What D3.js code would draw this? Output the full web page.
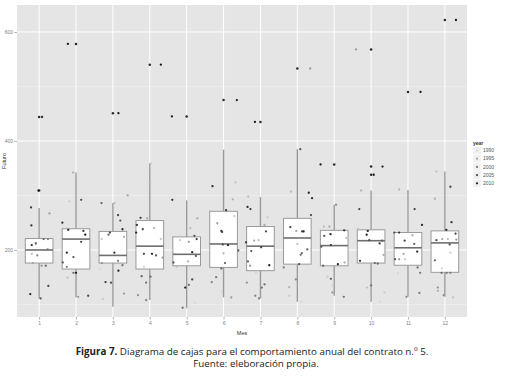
<!DOCTYPE html>
<html>
<head>
<meta charset="utf-8">
<script src="https://cdn.jsdelivr.net/npm/d3@7"></script>
<style>
  body { margin: 0; background: #fff; }
  svg { display: block; }
  .tick text { font-family: "Liberation Sans", Arial, sans-serif; }
</style>
</head>
<body>
<svg id="chart" width="506" height="380"></svg>
<script>
// months on the x axis
const months = [1, 2, 3, 4, 5, 6, 7, 8, 9, 10, 11, 12];

// box statistics
const whiskerLow  = [111, 113,  96, 108,  93, 113, 111, 105, 116, 105, 114, 114];
const q1          = [176, 165, 176, 165, 171, 168, 162, 174, 171, 176, 172, 159];
const medians     = [200, 220, 190, 207, 192, 211, 207, 222, 208, 217, 204, 213];
const q3          = [221, 239, 234, 254, 224, 271, 243, 258, 236, 237, 232, 235];
const whiskerHigh = [277, 342, 286, 359, 291, 384, 297, 385, 283, 309, 310, 344];

// outliers: [month, value]
const outliers = [
  [1, 444], [1, 309], [2, 578], [3, 451], [4, 540], [5, 445], [6, 475],
  [7, 435], [8, 533], [9, 357], [10, 568], [10, 353], [10, 338], [11, 490], [12, 622]
];

// jittered observations per month: [offset from month, value, year]
const jitterPts = [
  [[-0.22,278,2006],[0.28,267,1996],[-0.21,245,2007],[-0.20,209,2008],[-0.09,212,2004],[0.23,201,2000],
   [-0.05,190,1998],[-0.20,193,1993],[0.24,220,1999],[0.12,220,2002],[-0.17,176,1995],[0.18,171,2001],
   [0.07,171,1997],[0.25,134,2005],[-0.24,119,2009],[0.04,111,2003],[-0.02,309,2010],[0.08,444,2008]],
  [[-0.08,342,1994],[-0.18,289,1991],[0.14,292,2004],[-0.37,250,2007],[-0.21,237,2009],[0.20,235,2006],
   [0.25,228,2010],[0.14,215,2005],[-0.25,195,2008],[-0.07,187,2003],[-0.36,177,2002],[-0.25,169,1999],
   [-0.07,158,2001],[-0.23,149,1992],[0.00,158,2009],[0.33,116,2004],[0.06,114,1996],[-0.22,578,2010]],
  [[0.04,286,1993],[0.40,300,1995],[-0.31,286,2002],[0.14,264,2006],[0.26,238,2008],[0.20,254,2003],
   [-0.12,228,2001],[0.30,224,1994],[-0.30,220,1992],[0.04,195,2007],[-0.08,232,2005],[0.14,180,1999],
   [-0.30,176,1997],[-0.35,165,1990],[0.26,172,2000],[0.15,162,2009],[-0.05,140,2004],[-0.20,141,2006],
   [0.30,120,1996],[-0.27,110,1991],[0.15,451,2010]],
  [[0.04,359,1991],[0.00,322,1993],[-0.25,259,2006],[-0.07,258,1995],[-0.35,246,2007],[-0.19,238,2004],
   [0.12,240,1994],[-0.37,232,2008],[0.30,220,1992],[-0.16,193,2005],[0.06,193,2009],[0.17,190,2003],
   [0.35,186,1996],[-0.16,169,1990],[-0.22,152,2002],[0.02,151,2001],[-0.10,140,2000],[-0.32,117,1997],
   [-0.10,108,1999],[0.30,540,2010]],
  [[-0.39,292,2007],[0.29,258,1995],[0.10,240,1993],[0.21,226,2004],[0.27,220,2006],[-0.18,218,1991],
   [0.06,215,1996],[0.15,196,2008],[0.25,189,2002],[-0.36,177,2003],[0.04,179,1994],[-0.27,169,1992],
   [0.15,146,2005],[0.06,136,2001],[-0.04,131,2009],[0.23,103,1990],[-0.11,94,2000],[-0.40,445,2010]],
  [[-0.30,317,2008],[0.32,324,1992],[0.25,293,1994],[0.07,273,2006],[0.29,262,1991],[-0.17,249,1995],
   [-0.06,235,2007],[-0.04,233,2005],[0.12,209,2009],[-0.02,210,2004],[0.40,199,2003],[0.00,194,1993],
   [0.04,176,2002],[-0.06,166,2001],[-0.20,150,2000],[-0.32,141,1999],[-0.05,124,1990],[0.21,113,1996],
   [0.36,475,2010]],
  [[-0.33,298,1993],[-0.35,279,2008],[-0.27,275,2006],[0.19,260,1991],[0.11,246,1995],[0.15,234,2004],
   [-0.39,214,2007],[-0.17,217,1994],[-0.05,218,1992],[0.02,205,2005],[-0.25,198,2003],[-0.34,179,2002],
   [-0.28,171,1996],[0.24,172,2009],[-0.12,158,1990],[-0.37,140,1997],[0.11,137,2001],[0.04,131,2000],
   [-0.14,116,1998],[-0.04,111,1999],[-0.15,435,2010]],
  [[0.08,385,2003],[-0.17,307,1993],[0.31,305,2008],[0.40,295,2007],[0.37,264,2005],[-0.19,242,2006],
   [-0.03,235,1995],[0.13,234,2004],[0.17,234,2009],[0.00,211,1992],[0.27,201,2002],[0.12,194,2001],
   [0.09,191,2000],[-0.37,168,1999],[0.05,174,2003],[-0.04,146,1998],[-0.22,132,1994],[-0.22,116,1991],
   [0.11,105,1990],[0.35,533,1996]],
  [[0.05,283,1997],[-0.28,243,1993],[-0.13,243,1995],[0.27,236,2007],[-0.10,229,2009],[-0.27,226,2004],
   [0.33,222,1992],[-0.09,209,2006],[-0.35,206,2003],[0.10,174,2008],[-0.30,171,2001],[0.28,177,1994],
   [-0.18,151,1991],[-0.09,147,2002],[-0.05,135,1990],[-0.05,122,1996],[0.26,114,2000],[-0.37,357,2010]],
  [[-0.27,309,1994],[-0.32,275,2005],[-0.09,235,2008],[-0.12,228,2009],[-0.05,218,2004],[-0.36,238,1993],
   [0.23,212,2006],[0.30,217,2003],[0.34,191,1995],[-0.30,180,2007],[0.18,175,2002],[0.10,176,2001],
   [0.00,135,2000],[-0.11,131,1992],[0.36,122,1991],[0.24,105,1990],[0.31,353,2009],[0.07,338,2010],
   [-0.41,568,1996]],
  [[-0.24,311,1993],[0.18,275,2006],[0.38,246,2008],[-0.37,232,2004],[-0.24,232,2007],[0.12,227,1994],
   [-0.09,217,2005],[0.17,211,2002],[0.38,215,1992],[0.25,197,2009],[-0.12,193,1995],[-0.35,183,2003],
   [-0.08,183,1991],[-0.24,183,1996],[0.26,168,2001],[0.33,158,2000],[-0.28,157,1990],[0.31,121,1999],
   [-0.04,114,1998],[0.34,490,2010]],
  [[-0.23,344,1992],[0.15,316,2005],[-0.27,294,1994],[0.18,251,2007],[0.04,237,2009],[0.29,230,2006],
   [-0.23,218,2004],[-0.07,220,1995],[0.08,220,1993],[0.31,219,1996],[0.13,210,2003],[0.15,195,1991],
   [-0.27,181,2002],[-0.08,166,1990],[-0.09,158,2001],[0.05,158,2000],[0.15,158,1999],[-0.19,131,1997],
   [-0.19,125,1994],[-0.03,117,1998],[0.22,113,1992],[0.30,622,2010]]
];

// legend entries
const legendYears = [1990, 1995, 2000, 2005, 2010];

const svg = d3.select("#chart");

const panel = { left: 17, right: 467, top: 5, bottom: 317 };

const x = d3.scaleLinear()
  .domain([0.4, 12.6])
  .range([panel.left, panel.right]);

const y = d3.scaleLinear()
  .domain([77, 649.5])
  .range([panel.bottom, panel.top]);

const shade = d3.scaleLinear()
  .domain([1990, 2010])
  .range(["#d6d6d6", "#161616"])
  .interpolate(d3.interpolateRgb);

// ggplot default box width is 0.75 of a category
const boxW = x(1.75) - x(1);

// panel background
svg.append("rect")
  .attr("x", panel.left)
  .attr("y", panel.top)
  .attr("width", panel.right - panel.left)
  .attr("height", panel.bottom - panel.top)
  .attr("fill", "#e5e5e5");

// minor grid
svg.append("g")
  .selectAll("line")
  .data([100, 300, 500])
  .enter()
  .append("line")
  .attr("x1", panel.left).attr("x2", panel.right)
  .attr("y1", d => y(d)).attr("y2", d => y(d))
  .attr("stroke", "#f2f2f2")
  .attr("stroke-width", 0.6);

// major grid
svg.append("g")
  .selectAll("line")
  .data([200, 400, 600])
  .enter()
  .append("line")
  .attr("x1", panel.left).attr("x2", panel.right)
  .attr("y1", d => y(d)).attr("y2", d => y(d))
  .attr("stroke", "#ffffff")
  .attr("stroke-width", 1);

svg.append("g")
  .selectAll("line")
  .data(months)
  .enter()
  .append("line")
  .attr("x1", d => x(d)).attr("x2", d => x(d))
  .attr("y1", panel.top).attr("y2", panel.bottom)
  .attr("stroke", "#ffffff")
  .attr("stroke-width", 1);

// boxplots
const boxes = svg.append("g")
  .selectAll("g")
  .data(months.map((m, i) => ({
    m, lo: whiskerLow[i], q1: q1[i], med: medians[i], q3: q3[i], hi: whiskerHigh[i]
  })))
  .enter()
  .append("g");

boxes.append("line")
  .attr("x1", d => x(d.m)).attr("x2", d => x(d.m))
  .attr("y1", d => y(d.hi)).attr("y2", d => y(d.q3))
  .attr("stroke", "#9a9a9a").attr("stroke-width", 1.4);

boxes.append("line")
  .attr("x1", d => x(d.m)).attr("x2", d => x(d.m))
  .attr("y1", d => y(d.q1)).attr("y2", d => y(d.lo))
  .attr("stroke", "#9a9a9a").attr("stroke-width", 1.4);

boxes.append("rect")
  .attr("x", d => x(d.m) - boxW / 2)
  .attr("y", d => y(d.q3))
  .attr("width", boxW)
  .attr("height", d => y(d.q1) - y(d.q3))
  .attr("fill", "#ffffff")
  .attr("stroke", "#9a9a9a")
  .attr("stroke-width", 1);

boxes.append("line")
  .attr("x1", d => x(d.m) - boxW / 2).attr("x2", d => x(d.m) + boxW / 2)
  .attr("y1", d => y(d.med)).attr("y2", d => y(d.med))
  .attr("stroke", "#6e6e6e").attr("stroke-width", 1.6);

// outliers
svg.append("g")
  .selectAll("circle")
  .data(outliers)
  .enter()
  .append("circle")
  .attr("cx", d => x(d[0]))
  .attr("cy", d => y(d[1]))
  .attr("r", 1.25)
  .attr("fill", "#2a2a2a");

// jittered points
const pts = [];
jitterPts.forEach((arr, i) => {
  arr.forEach(p => pts.push({ m: months[i] + p[0], v: p[1], yr: p[2] }));
});

svg.append("g")
  .selectAll("circle")
  .data(pts)
  .enter()
  .append("circle")
  .attr("cx", d => x(d.m))
  .attr("cy", d => y(d.v))
  .attr("r", 1.15)
  .attr("fill", d => shade(d.yr));

// axes
const xAxis = svg.append("g")
  .attr("transform", `translate(0,${panel.bottom})`)
  .call(d3.axisBottom(x).tickValues(months).tickSize(2.5).tickPadding(2));

const yAxis = svg.append("g")
  .attr("transform", `translate(${panel.left},0)`)
  .call(d3.axisLeft(y).tickValues([200, 400, 600]).tickSize(2.5).tickPadding(1.5));

[xAxis, yAxis].forEach(a => {
  a.select(".domain").remove();
  a.selectAll(".tick line").attr("stroke", "#7f7f7f").attr("stroke-width", 0.6);
  a.selectAll(".tick text").attr("fill", "#7f7f7f").style("font-size", "5px");
});

svg.append("text")
  .attr("x", (panel.left + panel.right) / 2)
  .attr("y", 335)
  .attr("text-anchor", "middle")
  .style("font-family", "Liberation Sans, Arial, sans-serif")
  .style("font-size", "5.5px")
  .attr("fill", "#333")
  .text("Mes");

svg.append("text")
  .attr("transform", `translate(6,${(panel.top + panel.bottom) / 2}) rotate(-90)`)
  .attr("text-anchor", "middle")
  .style("font-family", "Liberation Sans, Arial, sans-serif")
  .style("font-size", "5.5px")
  .attr("fill", "#333")
  .text("Futuro");

// legend
const legend = svg.append("g").attr("transform", "translate(473,140)");

legend.append("text")
  .attr("x", 0).attr("y", 5)
  .style("font-family", "Liberation Sans, Arial, sans-serif")
  .style("font-size", "5px")
  .style("font-weight", "bold")
  .attr("fill", "#333")
  .text("year");

const items = legend.selectAll("g.item")
  .data(legendYears)
  .enter()
  .append("g")
  .attr("class", "item")
  .attr("transform", (d, i) => `translate(0,${6.5 + i * 8.2})`);

items.append("rect")
  .attr("width", 8).attr("height", 8)
  .attr("fill", "#f0f0f0")
  .attr("stroke", "#ffffff").attr("stroke-width", 0.5);

items.append("circle")
  .attr("cx", 4).attr("cy", 4).attr("r", 1.1)
  .attr("fill", d => shade(d));

items.append("text")
  .attr("x", 10).attr("y", 5.8)
  .style("font-family", "Liberation Sans, Arial, sans-serif")
  .style("font-size", "5px")
  .attr("fill", "#555")
  .text(d => d);

// caption
const cap = svg.append("text")
  .attr("x", 252).attr("y", 355)
  .attr("text-anchor", "middle")
  .style("font-family", "Open Sans, sans-serif")
  .style("font-size", "9.8px")
  .attr("fill", "#222");
cap.append("tspan").style("font-weight", "bold").text("Figura 7.");
cap.append("tspan").text(" Diagrama de cajas para el comportamiento anual del contrato n.º 5.");

svg.append("text")
  .attr("x", 256).attr("y", 367)
  .attr("text-anchor", "middle")
  .style("font-family", "Open Sans, sans-serif")
  .style("font-size", "9.8px")
  .attr("fill", "#222")
  .text("Fuente: eleboración propia.");
</script>
</body>
</html>
